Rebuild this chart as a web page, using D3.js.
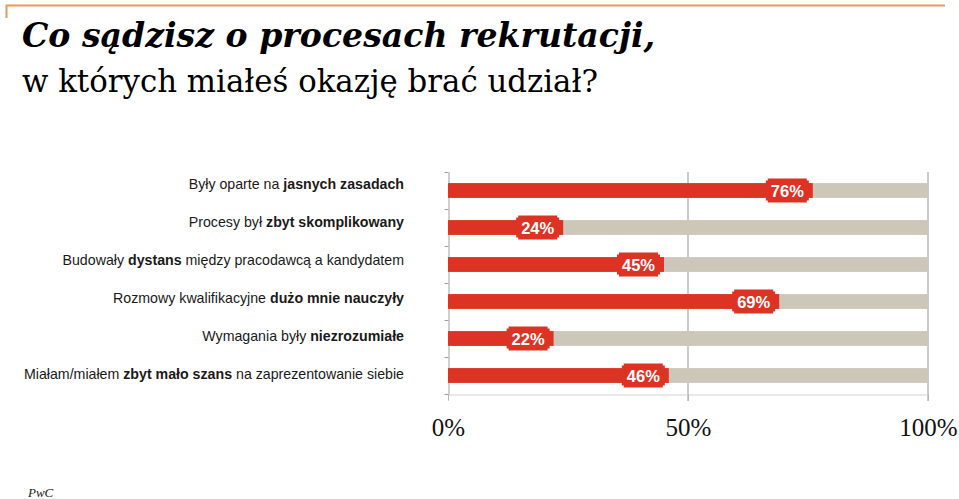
<!DOCTYPE html>
<html><head><meta charset="utf-8">
<script src="https://cdn.jsdelivr.net/npm/d3@7"></script>
<style>body{margin:0;background:#fff}svg{display:block}</style>
</head><body>
<svg id="c" width="959" height="499"></svg>
<script>
const categories = [
  ["Były oparte na ", "jasnych zasadach", ""],
  ["Procesy był ", "zbyt skomplikowany", ""],
  ["Budowały ", "dystans", " między pracodawcą a kandydatem"],
  ["Rozmowy kwalifikacyjne ", "dużo mnie nauczyły", ""],
  ["Wymagania były ", "niezrozumiałe", ""],
  ["Miałam/miałem ", "zbyt mało szans", " na zaprezentowanie siebie"]
];
const values = [76, 24, 45, 69, 22, 46];
const tickValues = [0, 50, 100];
const tickLabels = ["0%", "50%", "100%"];

const svg = d3.select("#c");
const red = "#dc3324", grey = "#cdc7b9";

// frame line
svg.append("path").attr("d", "M6.5,18 V5.5 H945").attr("fill","none").attr("stroke","#e59a5a").attr("stroke-width",2);

// titles
svg.append("text").attr("x",22).attr("y",47).attr("font-family","DejaVu Serif, Georgia, serif")
  .attr("font-weight","bold").attr("font-style","italic").attr("font-size",34)
  .attr("textLength",633).attr("lengthAdjust","spacingAndGlyphs").attr("fill","#000")
  .text("Co sądzisz o procesach rekrutacji,");
svg.append("text").attr("x",22).attr("y",92).attr("font-family","DejaVu Serif, Georgia, serif")
  .attr("font-size",32).attr("textLength",576).attr("lengthAdjust","spacingAndGlyphs").attr("fill","#000")
  .text("w których miałeś okazję brać udział?");

const idx = d3.range(categories.length);
const x = d3.scaleLinear().domain([0,100]).range([448,928]);
const y = d3.scaleBand().domain(idx).range([172,394]).paddingInner(0.6).paddingOuter(0.3);
const yl = d3.scalePoint().domain(idx).range([188.5,378.5]);

// gridlines
svg.append("g").selectAll("line").data(tickValues.slice(1)).join("line")
  .attr("x1",d=>x(d)).attr("x2",d=>x(d)).attr("y1",172).attr("y2",401)
  .attr("stroke","#a9a9a9").attr("stroke-width",1.2);

// bottom axis
const xa = svg.append("g").attr("transform","translate(0,394.5)")
  .call(d3.axisBottom(x).tickValues(tickValues).tickFormat((d,i)=>tickLabels[i]).tickSize(6).tickPadding(18));
xa.select(".domain").attr("stroke","#d4d4d4");
xa.selectAll(".tick line").attr("stroke","#b5b5b5");
xa.selectAll("text").attr("font-family","Liberation Serif, Georgia, serif").attr("font-size",25).attr("fill","#111");

// left axis with band boundaries
const yb = d3.scaleLinear().domain([0,categories.length]).range([172,394]);
const la = svg.append("g").attr("transform","translate(448.5,0)")
  .call(d3.axisLeft(yb).tickValues(d3.range(categories.length+1)).tickFormat("").tickSize(4).tickSizeOuter(0));
la.selectAll("path,line").attr("stroke","#a0a0a0");

// background bars
svg.append("g").selectAll("rect").data(idx).join("rect")
  .attr("x",x(0)).attr("y",i=>y(i)).attr("width",x(100)-x(0)).attr("height",y.bandwidth()).attr("fill",grey);
// value bars
svg.append("g").selectAll("rect").data(idx).join("rect")
  .attr("x",x(0)).attr("y",i=>y(i)).attr("width",i=>x(values[i])-x(0)).attr("height",y.bandwidth()).attr("fill",red);

// value label boxes with notched corners
const bw = 43, bh = 24, n = 2;
const lg = svg.append("g").selectAll("g").data(idx).join("g")
  .attr("transform",i=>`translate(${x(values[i])-4-bw},${y(i)+y.bandwidth()/2-bh/2})`);
lg.append("path").attr("fill",red)
  .attr("d",`M${n},0 H${bw-n} V${n} H${bw} V${bh-n} H${bw-n} V${bh} H${n} V${bh-n} H0 V${n} H${n} Z`);
lg.append("text").attr("x",bw/2).attr("y",bh/2+6).attr("text-anchor","middle")
  .attr("font-family","Liberation Sans, Arial, sans-serif").attr("font-weight","bold").attr("font-size",16.5)
  .attr("fill","#fff").text(i=>values[i]+"%");

// category labels
const ct = svg.append("g").selectAll("text").data(idx).join("text")
  .attr("x",404).attr("y",i=>yl(i)).attr("text-anchor","end")
  .attr("font-family","Liberation Sans, Arial, sans-serif").attr("font-size",14.2).attr("fill","#1a1a1a");
ct.append("tspan").text(i=>categories[i][0]);
ct.append("tspan").attr("font-weight","bold").text(i=>categories[i][1]);
ct.append("tspan").text(i=>categories[i][2]);

svg.append("text").attr("x",28).attr("y",497).attr("font-family","Liberation Serif, Georgia, serif")
  .attr("font-style","italic").attr("font-size",13).attr("fill","#222").text("PwC");
</script>
</body></html>
